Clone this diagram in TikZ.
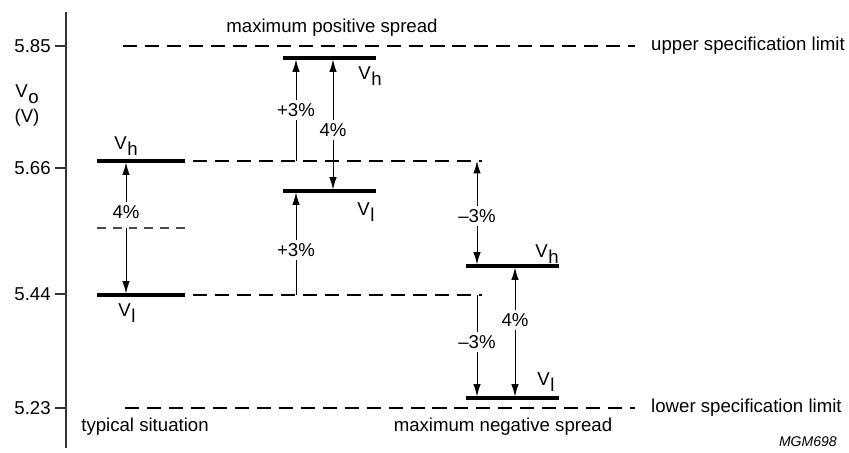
\documentclass[tikz,border=0pt]{standalone}
\usepackage{fontspec}
\setmainfont{Liberation Sans}
\usepackage{tikz}
\usetikzlibrary{arrows.meta}
\tikzstyle{arrow} = [line width=0.55pt, -{Latex[length=7pt,width=4.2pt]}]
\tikzstyle{stem} = [line width=0.55pt]
\tikzstyle{level} = [line width=1.8pt]
\tikzstyle{limit} = [line width=0.6pt, dash pattern=on 8pt off 4.5pt]
\tikzstyle{lbl} = [inner sep=2pt]
\newcommand{\Vsub}[1]{V\kern0.3pt\raisebox{-0.55ex}{#1}}

\begin{document}
\begin{tikzpicture}[x=0.02cm, y=-0.02cm, font=\fontsize{10.6}{12.7}\selectfont]
    \useasboundingbox (0,0) rectangle (849,453);

    % Vertical axis with ticks
    \draw[line width=0.8pt, black!80] (66,12) -- (66,448);
    \foreach \yy/\val in {46/5.85, 168/5.66, 294/5.44, 408/5.23} {
        \draw[line width=0.6pt, black!80] (55,\yy) -- (66,\yy);
        \node[anchor=east, inner sep=0pt] (tick\val) at (51,\yy) {\val};
    }
    \node (vo) at (27,94) {\Vsub{o}};
    \node (unit) at (27,118) {(V)};

    % Specification limits
    \draw[limit] (123,46) -- (635,46);
    \draw[limit] (125,408) -- (635,408);
    \node[anchor=west] (usl) at (645,46) {upper specification limit};
    \node[anchor=west] (lsl) at (645,408) {lower specification limit};

    % Typical situation
    \draw[level] (97,161) -- (185,161);
    \draw[level] (97,295) -- (185,295);
    \draw[line width=0.6pt, black!70, dash pattern=on 5pt off 4pt] (97,228) -- (185,228);
    \draw[limit] (193,161) -- (482,161);
    \draw[limit] (193,295) -- (482,295);
    \node (tvhlbl) at (126,146) {\Vsub{h}};
    \node (tvllbl) at (127,313) {\Vsub{l}};
    \coordinate (tvh) at (126,162.5);
    \coordinate (tmid) at (126,228);
    \coordinate (tvl) at (126,293.5);
    \node[lbl] (t4) at (126,212) {4\%};
    \draw[arrow] (t4) -- (tvh);
    \draw[arrow] (tmid) -- (tvl);
    \node (typ) at (145,427) {typical situation};

    % Maximum positive spread
    \node (pos) at (332,28) {maximum positive spread};
    \draw[level] (283,58) -- (376,58);
    \draw[level] (283,191) -- (376,191);
    \node (pvhlbl) at (370,76) {\Vsub{h}};
    \node (pvllbl) at (366,212) {\Vsub{l}};
    \coordinate (pa) at (296,161);
    \coordinate (pb) at (296,295);
    \coordinate (pvh1) at (296,59.5);
    \coordinate (pvh2) at (333,59.5);
    \coordinate (pvl1) at (296,192.5);
    \coordinate (pvl2) at (333,189.5);
    \node[lbl] (p3a) at (296,110) {+3\%};
    \node[lbl] (p4) at (333,130) {4\%};
    \node[lbl] (p3b) at (296,250) {+3\%};
    \draw[stem] (pa) -- (p3a);
    \draw[arrow] (p3a) -- (pvh1);
    \draw[arrow] (p4) -- (pvh2);
    \draw[arrow] (p4) -- (pvl2);
    \draw[stem] (pb) -- (p3b);
    \draw[arrow] (p3b) -- (pvl1);

    % Maximum negative spread
    \node (neg) at (503,427) {maximum negative spread};
    \draw[level] (466,266) -- (559,266);
    \draw[level] (466,398) -- (559,398);
    \node (nvhlbl) at (547,254) {\Vsub{h}};
    \node (nvllbl) at (546,382) {\Vsub{l}};
    \coordinate (na) at (477,161);
    \coordinate (nb) at (477,295);
    \coordinate (nvh1) at (477,264.5);
    \coordinate (nvh2) at (515,267.5);
    \coordinate (nvl1) at (477,396.5);
    \coordinate (nvl2) at (515,396.5);
    \node[lbl] (n3a) at (477,216) {--3\%};
    \node[lbl] (n4) at (515,320) {4\%};
    \node[lbl] (n3b) at (477,342) {--3\%};
    \draw[arrow] (n3a) -- (na);
    \draw[arrow] (n3a) -- (nvh1);
    \draw[arrow] (n4) -- (nvh2);
    \draw[arrow] (n4) -- (nvl2);
    \draw[stem] (nb) -- (n3b);
    \draw[arrow] (n3b) -- (nvl1);

    % Figure code
    \node[anchor=east, font=\fontsize{8}{9.6}\selectfont\itshape] (code) at (843,442) {MGM698};
\end{tikzpicture}
\end{document}
